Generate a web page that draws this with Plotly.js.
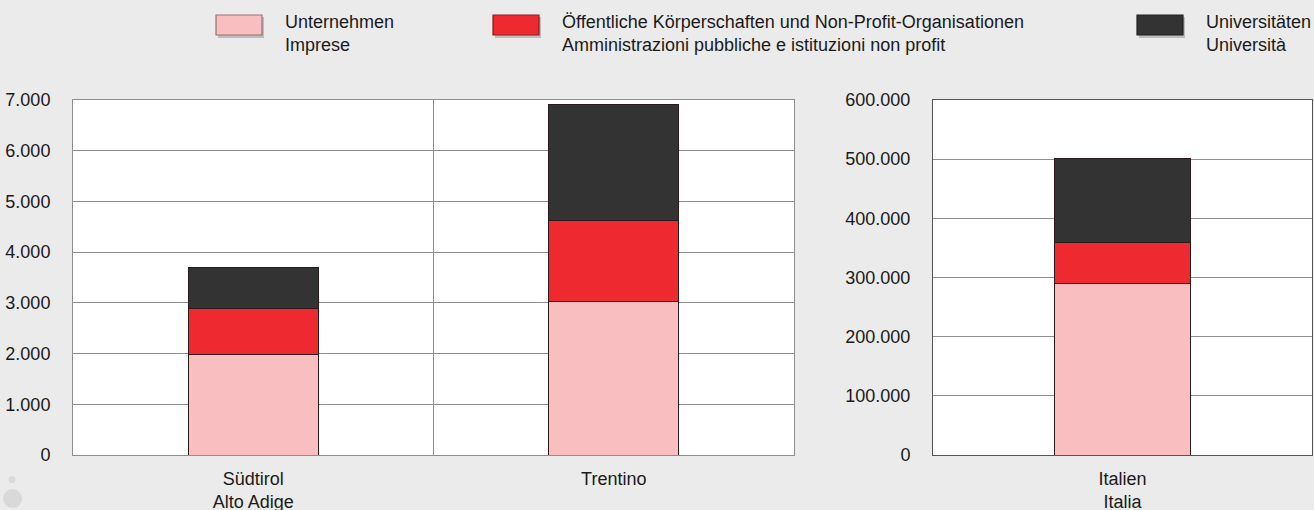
<!DOCTYPE html>
<html>
<head>
<meta charset="utf-8">
<script src="https://cdn.plot.ly/plotly-3.0.1.min.js"></script>
<style>
html,body{margin:0;padding:0;background:#ebebeb;}
#chart{width:1314px;height:510px;}
</style>
</head>
<body>
<div id="chart"></div>
<script>
// ---- data ----
const regions = ["Südtirol<br>Alto Adige", "Trentino"];
const national = ["Italien<br>Italia"];
const seriesNames = [
  "Unternehmen<br>Imprese",
  "Öffentliche Körperschaften und Non-Profit-Organisationen<br>Amministrazioni pubbliche e istituzioni non profit",
  "Universitäten<br>Università"
];
const companiesRegions = [1980, 3030];
const publicRegions = [900, 1590];
const universitiesRegions = [820, 2290];
const companiesItaly = [290000];
const publicItaly = [68500];
const universitiesItaly = [142000];
const leftTicks = [0, 1000, 2000, 3000, 4000, 5000, 6000, 7000];
const rightTicks = [0, 100000, 200000, 300000, 400000, 500000, 600000];

// ---- styles ----
const colors = ["#f8bec0", "#ee2a30", "#333333"];
const legendBorder = ["#9c6f72", "#8a1a1e", "#222222"];
const font = {family: "Liberation Sans, Arial, sans-serif", size: 18, color: "#1a1a1a"};

const leftVals = [companiesRegions, publicRegions, universitiesRegions];
const rightVals = [companiesItaly, publicItaly, universitiesItaly];

const traces = [];
for (let i = 0; i < 3; i++) {
  traces.push({
    type: "bar", x: regions, y: leftVals[i], name: seriesNames[i],
    xaxis: "x", yaxis: "y", showlegend: false,
    marker: {color: colors[i], line: {color: "#2a1a1a", width: 1}},
    hoverinfo: "y"
  });
}
for (let i = 0; i < 3; i++) {
  traces.push({
    type: "bar", x: national, y: rightVals[i], name: seriesNames[i],
    xaxis: "x2", yaxis: "y2", showlegend: false,
    marker: {color: colors[i], line: {color: "#2a1a1a", width: 1}},
    hoverinfo: "y"
  });
}

// page-pixel -> paper helpers (paper area = plot area between margins)
const W = 1314, H = 510, MT = 100, MB = 55;
const PH = H - MT - MB;
const px = x => x / W;
const py = y => (H - MB - y) / PH;

// legend built from the series names
const legendX = [216, 493, 1137];
const shapes = [];
const annotations = [];
for (let i = 0; i < 3; i++) {
  shapes.push({type: "rect", xref: "paper", yref: "paper", layer: "above",
    x0: px(legendX[i] + 2), x1: px(legendX[i] + 48), y0: py(38), y1: py(17),
    fillcolor: "#bdbdbd", line: {width: 0}});
  shapes.push({type: "rect", xref: "paper", yref: "paper", layer: "above",
    x0: px(legendX[i]), x1: px(legendX[i] + 46), y0: py(35), y1: py(15),
    fillcolor: colors[i], line: {color: legendBorder[i], width: 1.2}});
  annotations.push({xref: "paper", yref: "paper", x: px(legendX[i] + 67), y: py(10),
    xanchor: "left", yanchor: "top", align: "left", showarrow: false,
    text: seriesNames[i], font: font});
}
// decorative circles bottom-left
shapes.push({type: "circle", xref: "paper", yref: "paper", layer: "below",
  x0: px(8.5), x1: px(15.5), y0: py(483), y1: py(476),
  fillcolor: "#d9d9d9", line: {width: 0}});
shapes.push({type: "circle", xref: "paper", yref: "paper", layer: "below",
  x0: px(3), x1: px(22), y0: py(508), y1: py(489),
  fillcolor: "#d9d9d9", line: {width: 0}});

const layout = {
  width: W, height: H,
  margin: {l: 0, r: 0, t: MT, b: MB},
  paper_bgcolor: "#ebebeb",
  plot_bgcolor: "#ffffff",
  barmode: "stack",
  bargap: 0.64,
  separators: ",.",
  font: font,
  showlegend: false,
  xaxis: {
    domain: [px(73), px(794)], anchor: "y", type: "category",
    tickson: "boundaries", ticks: "", showgrid: true, gridcolor: "#8f8f8f", gridwidth: 1,
    showline: true, mirror: true, linecolor: "#8f8f8f", linewidth: 1,
    tickfont: font, ticklabelstandoff: 7, fixedrange: true
  },
  yaxis: {
    domain: [0, 1], anchor: "x", range: [0, 7000], tickvals: leftTicks, tickformat: ",d",
    showgrid: true, gridcolor: "#8f8f8f", gridwidth: 1, zeroline: false,
    ticks: "", ticklabelstandoff: 18, tickfont: font,
    showline: true, mirror: true, linecolor: "#8f8f8f", linewidth: 1
  },
  xaxis2: {
    domain: [px(933), px(1312)], anchor: "y2", type: "category",
    ticks: "", showgrid: false,
    showline: true, mirror: true, linecolor: "#555555", linewidth: 1,
    tickfont: font, ticklabelstandoff: 7
  },
  yaxis2: {
    domain: [0, 1], anchor: "x2", range: [0, 600000], tickvals: rightTicks, tickformat: ",d",
    showgrid: true, gridcolor: "#8f8f8f", gridwidth: 1, zeroline: false,
    ticks: "", ticklabelstandoff: 18, tickfont: font,
    showline: true, mirror: true, linecolor: "#555555", linewidth: 1
  },
  shapes: shapes,
  annotations: annotations
};

Plotly.newPlot("chart", traces, layout, {displayModeBar: false, staticPlot: true});
</script>
</body>
</html>
